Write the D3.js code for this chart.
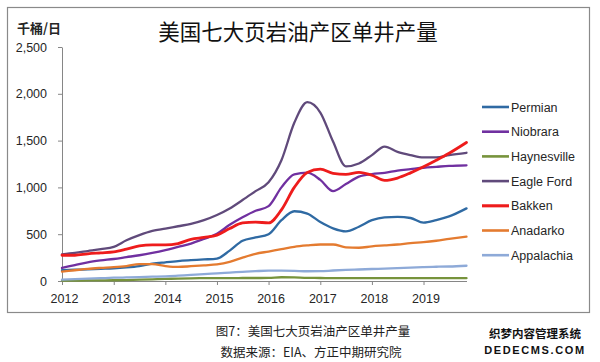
<!DOCTYPE html>
<html>
<head>
<meta charset="utf-8">
<script src="https://cdn.jsdelivr.net/npm/d3@7"></script>
<style>
  body { margin: 0; background: #fff; }
  svg { display: block; }
  text { font-family: "Liberation Sans", Arial, sans-serif; }
  .cjk { font-family: "Noto Sans CJK SC", sans-serif; }
</style>
</head>
<body>
<script>
const W = 600;
const H = 362;

// quarterly readings, thousand barrels/day per well
const months = ["2012-01","2012-04","2012-07","2012-10","2013-01","2013-04","2013-07","2013-10",
  "2014-01","2014-04","2014-07","2014-10","2015-01","2015-04","2015-07","2015-10",
  "2016-01","2016-04","2016-07","2016-10","2017-01","2017-04","2017-07","2017-10",
  "2018-01","2018-04","2018-07","2018-10","2019-01","2019-04","2019-07","2019-11"];

const seriesNames = ["Permian", "Niobrara", "Haynesville", "Eagle Ford", "Bakken", "Anadarko", "Appalachia"];

const permian = [115,120,125,130,135,145,160,185, 200,213,222,230,240,325,430,465,
  500,650,745,720,630,563,530,580, 650,680,685,673,623,650,690,776];
const niobrara = [140,170,200,220,235,255,275,300, 330,365,400,450,505,600,680,750,
  800,1000,1140,1157,1080,961,1036,1115, 1143,1155,1180,1195,1210,1220,1230,1236];
const haynesville = [5,5,6,7,8,10,14,18, 22,26,29,30,31,31,32,32,
  33,40,38,33,32,30,30,30, 30,30,30,30,30,30,30,30];
const eagleFord = [285,300,320,340,365,435,490,535, 560,585,610,650,705,775,865,960,
  1055,1290,1690,1910,1800,1490,1225,1255, 1345,1435,1380,1345,1320,1320,1345,1370];
const bakken = [275,275,290,300,310,340,375,385, 385,400,445,465,490,560,620,630,
  620,760,1000,1160,1195,1150,1140,1160, 1130,1075,1100,1155,1220,1290,1365,1480];
const anadarko = [100,115,130,140,148,160,180,180, 160,150,158,168,178,205,250,290,
  315,340,365,380,390,390,360,355, 370,380,390,405,415,430,450,475];
const appalachia = [15,20,25,30,35,38,42,46, 50,57,65,73,82,90,98,105,
  110,110,108,104,105,112,118,123, 128,133,138,143,148,152,155,163];

const yTicks = [0, 500, 1000, 1500, 2000, 2500];
const yearTicks = [2012, 2013, 2014, 2015, 2016, 2017, 2018, 2019];

const colors = ["#2f6aa3", "#7030a0", "#77933c", "#604a7b", "#ee1c1c", "#e47b30", "#8eaad8"];
const widths = [2.3, 2.3, 2.3, 2.3, 2.8, 2.3, 2.3];

const allValues = [permian, niobrara, haynesville, eagleFord, bakken, anadarko, appalachia];
const parse = d3.timeParse("%Y-%m");
const dates = months.map(parse);

const svg = d3.select("body").append("svg")
  .attr("width", W)
  .attr("height", H);

svg.append("rect").attr("width", W).attr("height", H).attr("fill", "#fff");

// chart frame
svg.append("rect")
  .attr("x", 7.5).attr("y", 7.5)
  .attr("width", 582).attr("height", 305)
  .attr("fill", "none")
  .attr("stroke", "#8a8a8a")
  .attr("stroke-width", 1.2);

const x = d3.scaleTime()
  .domain([new Date(2012, 0, 1), new Date(2019, 10, 1)])
  .range([62, 466.5]);

const y = d3.scaleLinear()
  .domain([0, 2500])
  .range([281, 47]);

// y axis
const yAxis = svg.append("g")
  .attr("transform", "translate(62,0)")
  .call(d3.axisLeft(y).tickValues(yTicks).tickFormat(d3.format(",")).tickSize(4).tickPadding(11).tickSizeOuter(0));
yAxis.select(".domain").attr("stroke", "#868686");
yAxis.selectAll(".tick line").attr("stroke", "#868686");
yAxis.selectAll("text").attr("font-size", 12.5).attr("fill", "#262626")
  .attr("font-family", "Liberation Sans, Arial, sans-serif");

// x axis
const xAxis = svg.append("g")
  .attr("transform", "translate(0,281)")
  .call(d3.axisBottom(x).tickValues(yearTicks.map(d => new Date(d, 0, 1)))
    .tickFormat(d3.timeFormat("%Y")).tickSize(4).tickPadding(9).tickSizeOuter(0));
xAxis.select(".domain").attr("stroke", "#868686");
xAxis.selectAll(".tick line").attr("stroke", "#868686");
xAxis.selectAll("text").attr("font-size", 12.5).attr("fill", "#262626")
  .attr("dx", 2)
  .attr("font-family", "Liberation Sans, Arial, sans-serif");

// lines
const line = d3.line()
  .x((d, i) => x(dates[i]))
  .y(d => y(d))
  .curve(d3.curveMonotoneX);

svg.append("g").selectAll("path")
  .data(allValues)
  .enter()
  .append("path")
  .attr("d", d => line(d))
  .attr("fill", "none")
  .attr("stroke", (d, i) => colors[i])
  .attr("stroke-width", (d, i) => widths[i])
  .attr("stroke-linejoin", "round")
  .attr("stroke-linecap", "round");

// legend
const legend = svg.append("g").attr("transform", "translate(482,107)");
const item = legend.selectAll("g")
  .data(seriesNames)
  .enter()
  .append("g")
  .attr("transform", (d, i) => "translate(0," + i * 24.7 + ")");
item.append("line")
  .attr("x1", 0).attr("x2", 27)
  .attr("stroke", (d, i) => colors[i])
  .attr("stroke-width", (d, i) => widths[i] + 0.3);
item.append("text")
  .attr("x", 29)
  .attr("y", 4.5)
  .attr("font-size", 12.5)
  .attr("fill", "#262626")
  .text(d => d);

// titles
svg.append("text")
  .attr("class", "cjk")
  .attr("x", 298).attr("y", 40)
  .attr("text-anchor", "middle")
  .attr("font-size", 21.5)
  .attr("fill", "#111")
  .text("美国七大页岩油产区单井产量");

svg.append("text")
  .attr("class", "cjk")
  .attr("x", 17).attr("y", 33)
  .attr("font-size", 13)
  .attr("font-weight", "bold")
  .attr("fill", "#262626")
  .text("千桶/日");

// caption below frame
svg.append("text")
  .attr("class", "cjk")
  .attr("x", 313).attr("y", 336)
  .attr("text-anchor", "middle")
  .attr("font-size", 12.5)
  .attr("fill", "#222")
  .text("图7：美国七大页岩油产区单井产量");

svg.append("text")
  .attr("class", "cjk")
  .attr("x", 311).attr("y", 357)
  .attr("text-anchor", "middle")
  .attr("font-size", 12.5)
  .attr("fill", "#222")
  .text("数据来源：EIA、方正中期研究院");

// watermark
svg.append("text")
  .attr("class", "cjk")
  .attr("x", 535).attr("y", 338)
  .attr("text-anchor", "middle")
  .attr("font-size", 11.5)
  .attr("font-weight", "bold")
  .attr("fill", "#111")
  .text("织梦内容管理系统");

svg.append("text")
  .attr("x", 535).attr("y", 354)
  .attr("text-anchor", "middle")
  .attr("font-size", 11)
  .attr("font-weight", "bold")
  .attr("letter-spacing", 1.6)
  .attr("fill", "#111")
  .attr("font-family", "DejaVu Sans Mono, monospace")
  .text("DEDECMS.COM");
</script>
</body>
</html>
